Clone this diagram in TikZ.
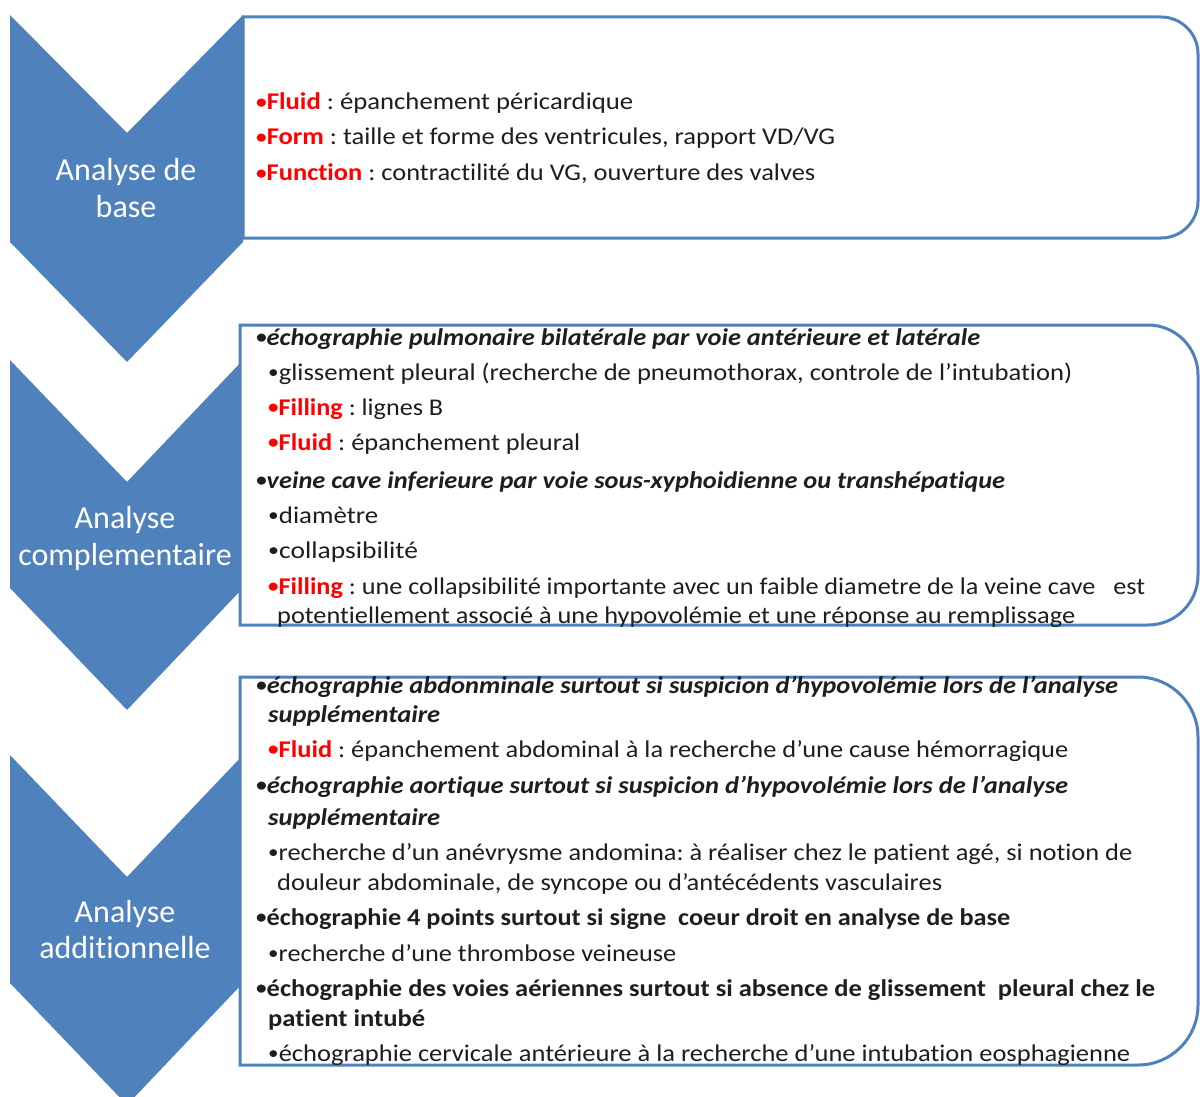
\documentclass[tikz,border=0pt]{standalone}
\usepackage{fontspec}
\setmainfont[Ligatures={NoCommon}]{Carlito}
\usepackage{graphicx}
\usetikzlibrary{positioning}
\definecolor{chevblue}{RGB}{79,129,189}
\definecolor{txtgrey}{RGB}{30,30,30}
\frenchspacing
\newcommand{\bul}{\raisebox{0.12ex}{\scalebox{0.8}{\textbullet}}}
\newcommand{\redlbl}[1]{{\color{red}\textbf{\bul#1}}}
\newcommand{\fitw}[2]{\resizebox{#1pt}{\height}{#2}}
\tikzset{
    chevron/.style = {fill=chevblue, draw=none},
    boxline/.style = {draw=chevblue, line width=3pt, fill=white},
    steplabel/.style = {anchor=base, inner sep=0pt, text=white, font=\fontsize{32}{37}\selectfont},
    txt/.style = {anchor=base west, inner sep=0pt, text=txtgrey, font=\fontsize{24}{29}\selectfont}}
\begin{document}
\begin{tikzpicture}[x=1pt,y=-1pt]
    \useasboundingbox (0,0) rectangle (1200,1097);
    % chevrons
    \fill[chevron] (10,15) -- (127,133) -- (243,15) -- (243,242) -- (127,362) -- (10,242) -- cycle;
    \fill[chevron] (10,360) -- (127,482) -- (243,360) -- (243,588) -- (127,710) -- (10,588) -- cycle;
    \fill[chevron] (10,755) -- (127,877) -- (243,755) -- (243,983) -- (127,1105) -- (10,983) -- cycle;
    \node[steplabel] (baseA) at (126,180) {Analyse de};
    \node[steplabel] (baseB) at (126,217) {base};
    \node[steplabel] (compA) at (125,528) {Analyse};
    \node[steplabel] (compB) at (125,565) {complementaire};
    \node[steplabel] (addA) at (125,922) {Analyse};
    \node[steplabel] (addB) at (125,958) {additionnelle};
    % boxes
    \path[boxline] (243,238) [sharp corners] -- (243,17) [rounded corners=37] -- (1198,17) -- (1198,238) [sharp corners] -- cycle;
    \path[boxline] (240,625) [sharp corners] -- (240,325) [rounded corners=50] -- (1198,325) -- (1198,625) [sharp corners] -- cycle;
    \path[boxline] (240,1065) [sharp corners] -- (240,677) [rounded corners=60] -- (1198,677) -- (1198,1065) [sharp corners] -- cycle;
    % box 1
    \node[txt] (fluidA) at (256,110) {\fitw{377}{\redlbl{Fluid} : épanchement péricardique}};
    \node[txt] (formA) at (256,145) {\fitw{579}{\redlbl{Form} : taille et forme des ventricules, rapport VD/VG}};
    \node[txt] (funcA) at (256,181) {\fitw{559}{\redlbl{Function} : contractilité du VG, ouverture des valves}};
    % box 2
    \node[txt] (pulm) at (256,345) {\fitw{724}{\textbf{\textit{\bul échographie pulmonaire bilatérale par voie antérieure et latérale}}}};
    \node[txt] (gliss) at (268,380) {\fitw{804}{\bul glissement pleural (recherche de pneumothorax, controle de l'intubation)}};
    \node[txt] (fillA) at (268,415) {\fitw{175}{\redlbl{Filling} : lignes B}};
    \node[txt] (fluidB) at (268,450) {\fitw{312}{\redlbl{Fluid} : épanchement pleural}};
    \node[txt] (veine) at (256,488) {\fitw{749}{\textbf{\textit{\bul veine cave inferieure par voie sous-xyphoidienne ou transhépatique}}}};
    \node[txt] (diam) at (268,523) {\fitw{110}{\bul diamètre}};
    \node[txt] (collap) at (268,558) {\fitw{150}{\bul collapsibilité}};
    \node[txt] (fillB) at (268,594) {\fitw{877}{\redlbl{Filling} : une collapsibilité importante avec un faible diametre de la veine cave \ \ est}};
    \node[txt] (fillBb) at (277,623) {\fitw{798}{potentiellement associé à une hypovolémie et une réponse au remplissage}};
    % box 3
    \node[txt] (abdo) at (256,693) {\fitw{862}{\textbf{\textit{\bul échographie abdonminale surtout si suspicion d'hypovolémie lors de l'analyse}}}};
    \node[txt] (abdob) at (268,722) {\fitw{172}{\textbf{\textit{supplémentaire}}}};
    \node[txt] (fluidC) at (268,757) {\fitw{800}{\redlbl{Fluid} : épanchement abdominal à la recherche d'une cause hémorragique}};
    \node[txt] (aorte) at (256,793) {\fitw{812}{\textbf{\textit{\bul échographie aortique surtout si suspicion d'hypovolémie lors de l'analyse}}}};
    \node[txt] (aorteb) at (268,825) {\fitw{172}{\textbf{\textit{supplémentaire}}}};
    \node[txt] (anev) at (268,860) {\fitw{864}{\bul recherche d'un anévrysme andomina: à réaliser chez le patient agé, si notion de}};
    \node[txt] (anevb) at (277,890) {\fitw{665}{douleur abdominale, de syncope ou d'antécédents vasculaires}};
    \node[txt] (quatre) at (256,925) {\fitw{754}{\textbf{\bul échographie 4 points surtout si signe \ coeur droit en analyse de base}}};
    \node[txt] (thromb) at (268,961) {\fitw{408}{\bul recherche d'une thrombose veineuse}};
    \node[txt] (voies) at (256,996) {\fitw{899}{\textbf{\bul échographie des voies aériennes surtout si absence de glissement \ pleural chez le}}};
    \node[txt] (voiesb) at (268,1026) {\fitw{157}{\textbf{patient intubé}}};
    \node[txt] (cerv) at (268,1061) {\fitw{862}{\bul échographie cervicale antérieure à la recherche d'une intubation eosphagienne}};
\end{tikzpicture}
\end{document}
